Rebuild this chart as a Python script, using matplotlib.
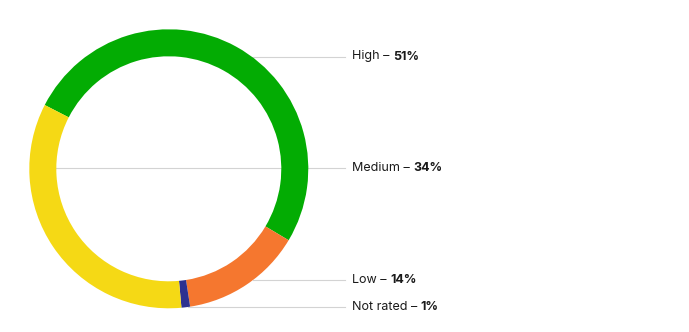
import numpy as np
import matplotlib.pyplot as plt

# data
categories = ["High", "Low", "Not rated", "Medium"]
shares = [51, 14, 1, 34]
colors = ["#03AC03", "#F5772F", "#2D3190", "#F5D915"]

# legend labels (top to bottom) and their row heights in pixels from top
label_names = ["High", "Medium", "Low", "Not rated"]
label_pct = [51, 34, 14, 1]
label_rows = [56.5, 168.3, 280.0, 307.0]

W, H = 689, 332
cx, cy = 168.8, H - 168.8
r_out, r_in = 139.5, 112.5

plt.rcParams['font.family'] = ['Inter', 'DejaVu Sans']

fig = plt.figure(figsize=(W / 100, H / 100), dpi=100)
ax = fig.add_axes([0, 0, 1, 1])

ax.pie(shares, colors=colors, center=(cx, cy), radius=r_out,
       startangle=152.8, counterclock=False,
       wedgeprops=dict(width=r_out - r_in, linewidth=0), frame=True)
ax.set_xlim(0, W)
ax.set_ylim(0, H)
ax.set_aspect('equal')
ax.axis('off')
for p in ax.patches:
    p.set_zorder(3)

x_end = 345
x_text = 352
for name, pct, row in zip(label_names, label_pct, label_rows):
    y = H - row
    dy = abs(y - cy)
    if dy < r_in - 10:
        # leader runs across the hole from the left inner edge
        x0 = cx - np.sqrt(r_in ** 2 - dy ** 2)
    else:
        x0 = cx + np.sqrt(max(r_out ** 2 - dy ** 2, 0))
    ax.plot([x0, x_end], [y, y], color="#D3D3D3", lw=0.8, zorder=1)
    t = ax.text(x_text, y, f"{name} – ", fontsize=9, color="#1A1A1A",
                va='center', ha='left')
    ax.annotate(f"{pct}%", xy=(1, 0), xycoords=t, va='bottom', ha='left',
                fontsize=9, fontweight='bold', color="#1A1A1A")

fig.savefig("out.png", dpi=100)
